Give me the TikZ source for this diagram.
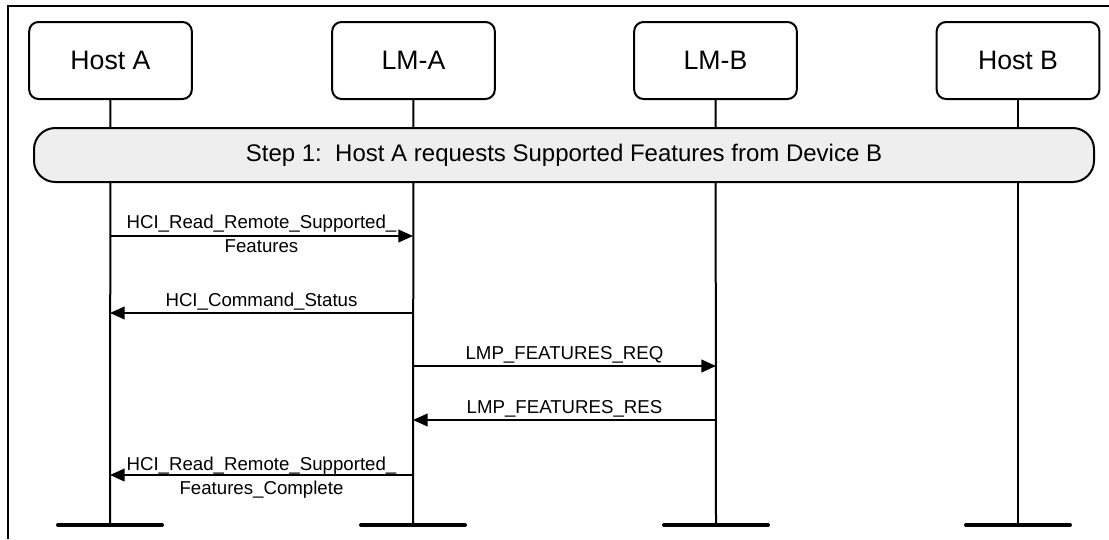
\documentclass[tikz,border=0pt]{standalone}
\usepackage{fontspec}
\setmainfont{Liberation Sans}
\usetikzlibrary{arrows.meta}
\definecolor{stepgray}{RGB}{238,238,238}
\begin{document}
\begin{tikzpicture}[x=0.75pt,y=-0.75pt,
  ent/.style={draw, line width=1.5pt, rounded corners=7pt, minimum width=122pt, minimum height=57.75pt, font=\fontsize{20pt}{24pt}\selectfont, inner sep=0pt},
  life/.style={line width=1.5pt},
  stepbox/.style={draw, line width=1.5pt, fill=stepgray, rounded corners=16pt, minimum width=795pt, minimum height=40.5pt, font=\fontsize{18pt}{22pt}\selectfont, inner sep=0pt},
  msg/.style={line width=1.5pt, -{Triangle[length=11pt,width=9.5pt]}},
  lbl/.style={font=\fontsize{14pt}{18pt}\selectfont, inner sep=0pt},
  endbar/.style={line width=3pt, line cap=round}]
\useasboundingbox (0,0) rectangle (1109,539);
% frame
\draw[line width=1.5pt] (8,539) -- (8,6) -- (1109,6);
% entities
\node[ent] (hostA) at (110.5,60.5) {Host A};
\node[ent] (lmA) at (413.5,60.5) {LM-A};
\node[ent] (lmB) at (715.5,60.5) {LM-B};
\node[ent] (hostB) at (1018,60.5) {Host B};
% lifeline ends
\coordinate (hostAend) at (110,525);
\coordinate (lmAend) at (413,525);
\coordinate (lmBend) at (716,525);
\coordinate (hostBend) at (1018,525);
\draw[life] (hostA) -- (hostAend);
\draw[life] (lmA) -- (lmAend);
\draw[life] (lmB) -- (lmBend);
\draw[life] (hostB) -- (hostBend);
\foreach \e in {hostAend,lmAend,lmBend,hostBend}
  \draw[endbar] ([xshift=-39pt]\e) -- ([xshift=39pt]\e);
% step box
\node[stepbox] (step) at (564,155) {Step 1:\ \ Host A requests Supported Features from Device B};
% message rows
\coordinate (y1) at (0,236);
\coordinate (y2) at (0,313);
\coordinate (y3) at (0,366);
\coordinate (y4) at (0,420);
\coordinate (y5) at (0,475);
\draw[msg] (hostAend |- y1) -- (lmAend |- y1)
  node[lbl, midway, align=center, yshift=1.8pt] {HCI\_Read\_Remote\_Supported\_\\Features};
\draw[msg] (lmAend |- y2) -- (hostAend |- y2)
  node[lbl, midway, anchor=base, yshift=5pt] {HCI\_Command\_Status};
\draw[msg] (lmAend |- y3) -- (lmBend |- y3)
  node[lbl, midway, anchor=base, yshift=5pt] {LMP\_FEATURES\_REQ};
\draw[msg] (lmBend |- y4) -- (lmAend |- y4)
  node[lbl, midway, anchor=base, yshift=5pt] {LMP\_FEATURES\_RES};
\draw[msg] (lmAend |- y5) -- (hostAend |- y5)
  node[lbl, midway, align=center, yshift=-2.2pt] {HCI\_Read\_Remote\_Supported\_\\Features\_Complete};
\end{tikzpicture}
\end{document}
